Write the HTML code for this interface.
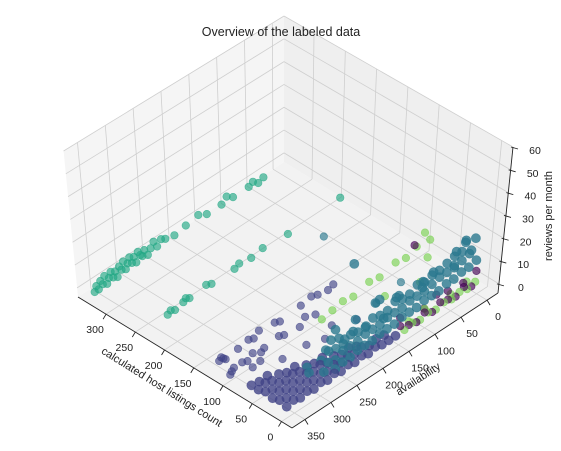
<!DOCTYPE html>
<html><head><meta charset="utf-8"><style>
body{margin:0;background:#fff;width:561px;height:446px;overflow:hidden}
svg text{font-family:"Liberation Sans","DejaVu Sans",sans-serif;fill:#222}
</style></head><body>
<svg id="chart" width="561" height="446" viewBox="0 0 561 446">
<g id="panes"></g>
<g id="grid"></g>
<g id="axes"></g>
<g id="pts"></g>
<text x="281" y="36" text-anchor="middle" font-size="12.5">Overview of the labeled data</text>
<text transform="translate(160,390) rotate(32)" text-anchor="middle" font-size="11">calculated host listings count</text>
<text transform="translate(420,382) rotate(-33)" text-anchor="middle" font-size="11">availability</text>
<text transform="translate(552,216) rotate(-90)" text-anchor="middle" font-size="11">reviews per month</text>
</svg>
<script>
// tick values
const xTicks=[0,50,100,150,200,250,300];
const yTicks=[0,50,100,150,200,250,300,350];
const zTicks=[0,10,20,30,40,50,60];
// clusters: [listings, availability, reviews]
const clusterTealGreen=[[327,365,0],[327,361,2],[327,357,0],[327,353,3],[327,349,1],[327,345,4],[327,341,0],[327,337,2],[327,333,4],[327,329,1],[327,325,3],[327,321,0],[327,317,4],[327,313,2],[327,309,5],[327,305,1],[327,301,3],[327,297,5],[327,293,2],[327,289,4],[327,285,1],[327,281,5],[327,277,3],[327,273,2],[327,269,4],[327,263,1],[327,257,3],[327,251,5],[327,245,2],[327,237,4],[327,229,3],[327,212,2],[327,190,3],[327,166,4],[327,150,2],[327,122,2],[327,112,4],[327,100,2],[327,70,2],[327,62,3],[327,52,1],[327,42,2]];
const clusterTealGreen2=[[232,332,0],[232,326,1],[232,318,0],[232,302,1],[232,297,2],[232,290,1],[232,258,2],[232,248,1],[232,204,1],[232,195,2],[232,172,1],[232,150,2],[232,102,1],[232,2,2]];
const clusterIndigoSparse=[[121,358,1],[121,354,2],[121,350,1],[121,346,0],[121,322,1],[121,302,2],[121,292,1],[121,282,3],[121,252,2],[121,242,1],[121,202,2],[121,182,3],[121,170,2],[121,150,1],[121,140,2],[96,365,0],[96,362,1],[96,358,2],[96,342,2],[96,332,1],[96,322,3],[96,306,1],[96,300,2],[96,272,3],[96,262,2],[96,232,1],[96,222,4],[96,202,2],[65,300,2],[60,260,3],[55,230,2],[70,200,1],[50,175,3],[80,340,2],[85,320,1]];
const clusterIndigo=[
[0,365,1],[12,365,2],[24,365,1],[36,365,2],[48,365,1],[60,365,1],
[0,352,2],[12,352,1],[24,352,2],[36,352,1],[48,352,2],[58,352,1],
[0,339,1],[12,339,2],[24,339,1],[36,339,2],[48,339,1],[56,339,2],
[0,326,2],[12,326,1],[24,326,2],[36,326,1],[48,326,2],
[0,313,1],[12,313,2],[24,313,1],[36,313,2],[46,313,1],
[0,300,2],[12,300,1],[24,300,2],[36,300,1],[44,300,2],
[0,287,1],[12,287,2],[24,287,1],[36,287,2],
[0,274,2],[12,274,1],[24,274,2],[34,274,1],
[0,261,1],[12,261,2],[24,261,1],[32,261,2],
[0,248,2],[12,248,1],[24,248,2],
[0,235,1],[12,235,2],[22,235,1],
[0,222,2],[12,222,1],[22,222,2],
[0,209,1],[12,209,2],[20,209,1],
[0,196,2],[10,196,1],[0,183,1],[10,183,2],[0,170,1],[8,170,2],[0,157,1]];
const clusterTeal=[
[2,270,3],[14,270,4],[26,270,3],[2,256,4],[14,256,3],[26,256,5],
[2,242,4],[14,242,5],[26,242,4],[2,228,5],[14,228,5],[26,228,4],
[2,214,5],[14,214,5],[26,214,6],[2,200,5],[14,200,6],[26,200,5],
[2,186,6],[14,186,6],[26,186,5],[2,172,6],[14,172,6],[26,172,7],
[2,158,6],[14,158,7],[26,158,6],[2,144,7],[14,144,7],[26,144,6],
[2,130,7],[14,130,7],[26,130,8],[2,116,7],[14,116,8],[26,116,7],
[2,102,8],[14,102,8],[26,102,7],[2,88,8],[14,88,8],[26,88,9],
[2,74,8],[14,74,9],[26,74,8],[2,60,9],[14,60,10],[26,60,9],
[2,46,9],[14,46,10],[26,46,9],[2,32,10],[14,32,10],[26,32,10],
[2,18,10],[14,18,11],[26,18,11],[2,4,11],[14,4,12],[26,4,11],
[8,8,15],[20,5,17],[6,4,20],[15,12,18],[22,20,14],[8,40,13],[20,65,12],[12,95,11],[24,130,10],[10,170,9],[22,230,7],
[20,300,3],[32,290,2],[8,285,3],[36,250,3],[40,220,3],[34,200,4],[30,180,4],
[45,230,3],[48,180,4],[50,140,5],[45,100,3],[40,60,4],[60,120,2],[55,210,3],[70,160,22]];
const clusterGreen=[[87,200,1],[87,180,2],[87,160,3],[87,140,2],[87,110,4],[87,90,3],[87,60,5],[87,40,4],[87,20,6],[60,110,2],[45,60,3],[0,140,1],[0,125,2],[0,110,1],[0,95,2],[0,80,1],[0,65,2],[0,50,1],[0,35,2],[0,20,1],[0,5,2],[2,130,3],[2,50,3],[70,15,11],[75,20,14],[60,30,7],[2,100,4],[2,20,4]];
const clusterPurple=[[0,132,2],[0,117,1],[0,102,3],[0,87,1],[0,72,3],[0,57,2],[0,42,1],[0,27,3],[0,12,1],[3,100,4],[3,55,5],[3,25,4],[2,2,6],[5,75,6],[70,45,13],[8,140,5],[3,145,3]];
const clusterDarkTeal=[[121,160,26],[40,150,8],[35,110,12]];

const xmin=-18,xmax=348,ymin=-21,ymax=375,zmin=-4,zmax=60;
const F=[292,428],L=[78,297],R=[498,293],H=146,LEAN=15;
function proj(x,y,z){
  const a=(x-xmin)/(xmax-xmin), b=(ymax-y)/(ymax-ymin), c=(z-zmin)/(zmax-zmin);
  const bx=F[0]+a*(L[0]-F[0])+b*(R[0]-F[0]);
  const by=F[1]+a*(L[1]-F[1])+b*(R[1]-F[1]);
  return [bx+c*(bx-284)/214*LEAN, by-c*H];
}
const NS="http://www.w3.org/2000/svg";
function mk(tag,attrs,parent){const e=document.createElementNS(NS,tag);for(const k in attrs)e.setAttribute(k,attrs[k]);parent.appendChild(e);return e;}
function poly(pts){return pts.map(p=>p[0].toFixed(1)+","+p[1].toFixed(1)).join(" ");}
const panes=document.getElementById('panes'),grid=document.getElementById('grid'),axes=document.getElementById('axes'),ptsG=document.getElementById('pts');

let el;
el=mk('polygon',{points:poly([proj(xmin,ymax,zmin),proj(xmax,ymax,zmin),proj(xmax,ymin,zmin),proj(xmin,ymin,zmin)]),fill:'#f2f2f2'},panes);


el=mk('polygon',{points:poly([proj(xmax,ymax,zmin),proj(xmax,ymin,zmin),proj(xmax,ymin,zmax),proj(xmax,ymax,zmax)]),fill:'#f5f5f5'},panes);


el=mk('polygon',{points:poly([proj(xmax,ymin,zmin),proj(xmin,ymin,zmin),proj(xmin,ymin,zmax),proj(xmax,ymin,zmax)]),fill:'#efefef'},panes);



function gl(p,q){const l=mk('line',{x1:p[0],y1:p[1],x2:q[0],y2:q[1],stroke:'#cfcfcf','stroke-width':0.8},grid);

}
xTicks.forEach(x=>{gl(proj(x,ymax,zmin),proj(x,ymin,zmin));gl(proj(x,ymin,zmin),proj(x,ymin,zmax));});
yTicks.forEach(y=>{gl(proj(xmin,y,zmin),proj(xmax,y,zmin));gl(proj(xmax,y,zmin),proj(xmax,y,zmax));});
zTicks.forEach(z=>{gl(proj(xmax,ymax,z),proj(xmax,ymin,z));gl(proj(xmax,ymin,z),proj(xmin,ymin,z));});

function al(p,q,name){const l=mk('line',{x1:p[0],y1:p[1],x2:q[0],y2:q[1],stroke:'#222','stroke-width':0.9},axes);

}
al(proj(xmin,ymax,zmin),proj(xmax,ymax,zmin),'x-axis-line');
al(proj(xmin,ymax,zmin),proj(xmin,ymin,zmin),'y-axis-line');
al(proj(xmin,ymin,zmin),proj(xmin,ymin,zmax),'z-axis-line');
function tl(t,x,y,name){const e=mk('text',{x:x,y:y,'font-size':10.5,'text-anchor':'middle'},axes);e.textContent=t;

}
xTicks.forEach(v=>{const p=proj(v,ymax,zmin);al(p,[p[0]-3,p[1]+5],'x-tick');tl(v,p[0]-11,p[1]+19,'x-tick-label');});
yTicks.forEach(v=>{const p=proj(xmin,v,zmin);al(p,[p[0]+3,p[1]+5],'y-tick');tl(v,p[0]+11,p[1]+20,'y-tick-label');});
zTicks.forEach(v=>{const p=proj(xmin,ymin,v);al([p[0]-2,p[1]],[p[0]+5,p[1]+2],'z-tick');tl(v,p[0]+22,p[1]+7,'z-tick-label');});

const clusters=[[clusterTealGreen,'#22a884','cluster-teal-green'],[clusterTealGreen2,'#22a884','cluster-teal-green-2'],[clusterIndigoSparse,'#414487','cluster-indigo-sparse'],[clusterIndigo,'#414487','cluster-indigo'],[clusterTeal,'#2a788e','cluster-teal'],[clusterGreen,'#7ad151','cluster-green'],[clusterPurple,'#440154','cluster-purple'],[clusterDarkTeal,'#2a788e','cluster-dark-teal']];
const all=[];
clusters.forEach(c=>c[0].forEach(d=>all.push({d:d,col:c[1],name:c[2]})));
all.forEach(o=>{const a=(o.d[0]-xmin)/(xmax-xmin),b=(ymax-o.d[1])/(ymax-ymin);o.depth=a+b;});
all.sort((p,q)=>q.depth-p.depth);
all.forEach(o=>{const p=proj(o.d[0],o.d[1],o.d[2]);
const dense=(o.name==='cluster-indigo'||o.name==='cluster-teal');
const c=mk('circle',{cx:p[0].toFixed(1),cy:p[1].toFixed(1),r:dense?4.6:3.8,fill:o.col,'fill-opacity':dense?0.8:0.65,stroke:o.col,'stroke-opacity':0.65,'stroke-width':0.6},ptsG);

});
</script>
</body></html>
